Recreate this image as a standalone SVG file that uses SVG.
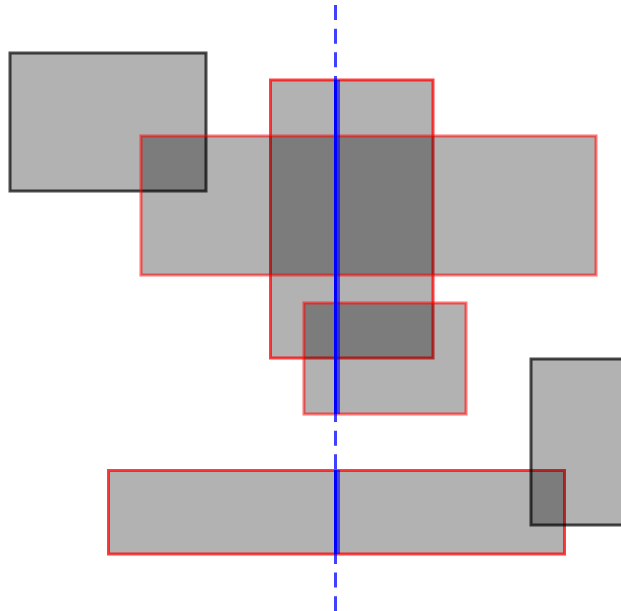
<svg xmlns="http://www.w3.org/2000/svg" width="621" height="611" viewBox="0 0 621 611">
<style>
.box{fill:#000;fill-opacity:0.3}
.blk{stroke:#000;stroke-opacity:0.7;stroke-width:3}
.red{stroke:#f00;stroke-opacity:0.75;stroke-width:3}
.redl{stroke:#f00;stroke-opacity:0.55;stroke-width:3}
</style>
<rect width="621" height="611" fill="#fff"/>
<g id="node-a"><rect class="box blk" x="10" y="53" width="196" height="138"/></g>
<g id="node-b"><rect class="box red" x="270.5" y="80" width="162.5" height="278"/></g>
<g id="node-c"><rect class="box redl" x="141" y="136" width="455" height="139"/></g>
<g id="node-d"><rect class="box redl" x="304" y="303" width="162" height="111"/></g>
<g id="node-e"><rect class="box red" x="108.5" y="470.5" width="456" height="83.5"/></g>
<g id="node-f"><rect class="box blk" x="531" y="359" width="95" height="166"/></g>
<g id="connectors">
<line x1="335.5" y1="5" x2="335.5" y2="611" stroke="#00f" stroke-opacity="0.75" stroke-width="3" stroke-dasharray="15 8.65"/>
<rect x="334" y="80" width="3" height="334" fill="#00f"/>
<rect x="337" y="80" width="3" height="334" fill="#00f" fill-opacity="0.6"/>
<rect x="334" y="470" width="3" height="84" fill="#00f"/>
<rect x="337" y="470" width="3" height="84" fill="#00f" fill-opacity="0.6"/>
</g>
</svg>
